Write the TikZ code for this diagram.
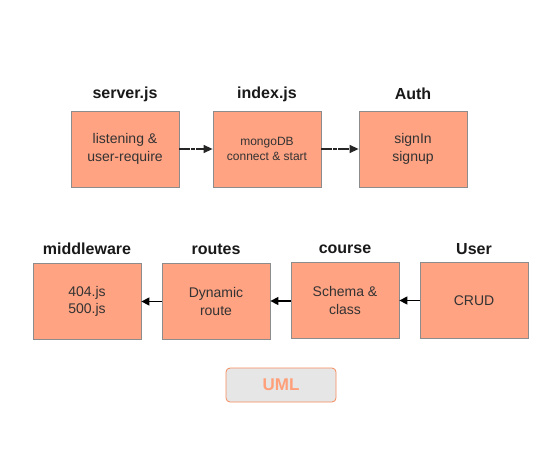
\documentclass[tikz,border=0pt]{standalone}
\usepackage{fontspec}
\setmainfont{Liberation Sans}
\usetikzlibrary{arrows.meta}
\definecolor{boxfill}{HTML}{FFA383}
\definecolor{boxline}{HTML}{8C8C8C}
\definecolor{boxtext}{HTML}{333333}
\definecolor{umlfill}{HTML}{E6E6E6}
\definecolor{umlline}{HTML}{F58B5C}
\definecolor{umltext}{HTML}{FFA07A}
\begin{document}
\begin{tikzpicture}[x=1pt,y=-1pt,
  card/.style={draw=boxline,fill=boxfill,line width=0.8pt,minimum width=108pt,minimum height=76pt,
    inner sep=0pt,align=center,text=boxtext,font=\fontsize{14}{17.5}\selectfont},
  title/.style={font=\fontsize{16}{19}\selectfont\bfseries,text=black!90,inner sep=0pt},
  flowdash/.style={line width=1.3pt,draw=black!85,dash pattern=on 11pt off 1pt on 4pt off 1pt,
    -{Triangle[length=9pt,width=8pt]}},
  flow/.style={line width=1.4pt,draw=black,-{Triangle[length=8pt,width=8pt]}}]
\useasboundingbox (0,0) rectangle (551,466);
% top row
\node[card] (server) at (125,149) {listening \&\\user-require};
\node[card,font=\fontsize{12}{15}\selectfont] (index) at (267,149) {mongoDB\\connect \& start};
\node[card] (auth) at (413,149) {signIn\\signup};
\node[title] (tserver) at (125,94) {server.js};
\node[title] (tindex) at (267,94) {index.js};
\node[title] (tauth) at (413,94) {Auth};
\draw[flowdash] (server) -- (index);
\draw[flowdash] (index) -- (auth);
% bottom row
\node[card] (mid) at (87,301.5) {404.js\\500.js};
\node[card] (routes) at (216,301.5) {Dynamic\\route};
\node[card] (course) at (345,300.5) {Schema \&\\class};
\node[card] (user) at (474,300.5) {CRUD};
\node[title] (tmid) at (87,249) {middleware};
\node[title] (troutes) at (216,249) {routes};
\node[title] (tcourse) at (345,249) {course};
\node[title] (tuser) at (474,249) {User};
\draw[flow] (routes.west |- 0,301.5) -- (mid.east |- 0,301.5);
\draw[flow] (course.west |- 0,301) -- (routes.east |- 0,301);
\draw[flow] (user.west |- 0,300.5) -- (course.east |- 0,300.5);
% UML
\node[draw=umlline,fill=umlfill,rounded corners=4pt,line width=0.8pt,minimum width=110pt,minimum height=34pt,
  inner sep=0pt,text=umltext,font=\fontsize{17}{20}\selectfont\bfseries] (uml) at (281,385) {UML};
\end{tikzpicture}
\end{document}
